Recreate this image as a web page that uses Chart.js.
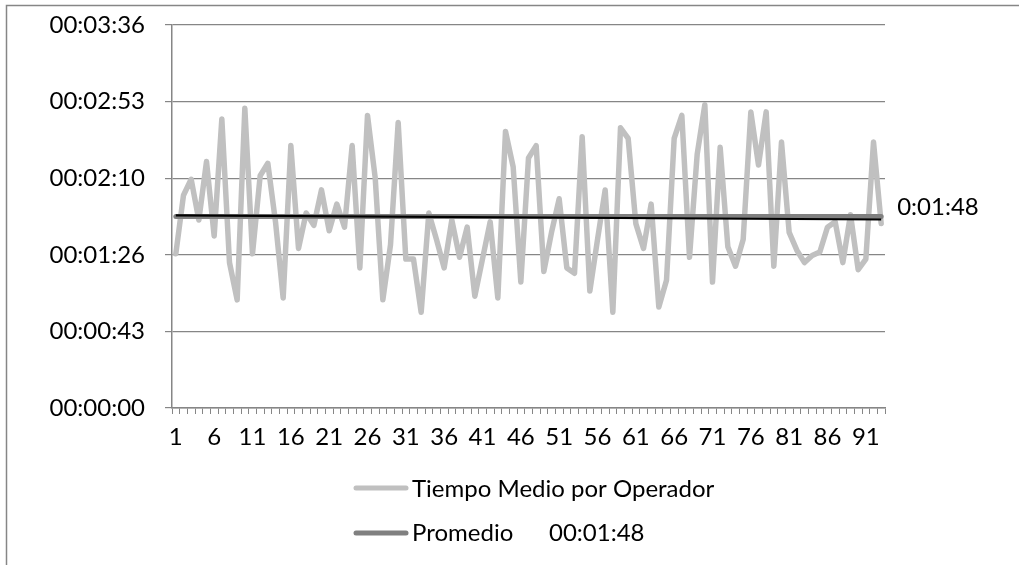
<!DOCTYPE html>
<html>
<head>
<meta charset="utf-8">
<script src="https://cdn.jsdelivr.net/npm/chart.js@4.4.0/dist/chart.umd.min.js"></script>
<style>
  html, body { margin: 0; padding: 0; background: #fff; }
  #wrap { width: 1019px; height: 565px; position: relative; }
</style>
</head>
<body>
<div id="wrap"><canvas id="chart" width="1019" height="565"></canvas></div>
<script>
// Operator index (category axis)
const categories = ['1','2','3','4','5','6','7','8','9','10','11','12','13','14','15','16','17','18','19','20',
  '21','22','23','24','25','26','27','28','29','30','31','32','33','34','35','36','37','38','39','40',
  '41','42','43','44','45','46','47','48','49','50','51','52','53','54','55','56','57','58','59','60',
  '61','62','63','64','65','66','67','68','69','70','71','72','73','74','75','76','77','78','79','80',
  '81','82','83','84','85','86','87','88','89','90','91','92','93'];

// Category labels shown under the axis
const xTickLabels = ['1','6','11','16','21','26','31','36','41','46','51','56','61','66','71','76','81','86','91'];

// Average handling time per operator, in seconds
const tiempoMedio = [87,120,129,106,139,97,163,82,61,169,87,131,138,105,62,148,90,110,103,123,
  100,115,102,148,79,165,130,61,92,161,84,84,54,110,95,79,106,85,102,63,
  84,105,62,156,136,71,141,148,77,99,118,79,76,153,66,95,123,54,158,152,
  104,90,115,57,72,152,165,85,143,171,71,147,91,80,95,167,137,167,80,150,
  99,89,82,86,88,102,105,82,109,78,84,150,104];

// Overall average (00:01:48), one value per operator
const promedio = [108,108,108,108,108,108,108,108,108,108,108,108,108,108,108,108,108,108,108,108,
  108,108,108,108,108,108,108,108,108,108,108,108,108,108,108,108,108,108,108,108,
  108,108,108,108,108,108,108,108,108,108,108,108,108,108,108,108,108,108,108,108,
  108,108,108,108,108,108,108,108,108,108,108,108,108,108,108,108,108,108,108,108,
  108,108,108,108,108,108,108,108,108,108,108,108,108];

// Linear trend of the operator times: value at first and last operator
const trendEnds = [108.6, 106.3];

// Value-axis ticks, in seconds
const yTickValues = [0, 43.2, 86.4, 129.6, 172.8, 216];

const seriesNames = ['Tiempo Medio por Operador', 'Promedio'];
const promedioLegendValue = '00:01:48';

const FONT = 'Lato, "Open Sans", sans-serif';
const FONT_SIZE = 24;
const AXIS_GREY = '#868686';

function pad2(n) { return String(n).padStart(2, '0'); }
function hms(v, padHours) {
  const s = Math.round(v);
  const h = Math.floor(s / 3600), m = Math.floor((s % 3600) / 60), sec = s % 60;
  return (padHours ? pad2(h) : String(h)) + ':' + pad2(m) + ':' + pad2(sec);
}

// Outer frame of the chart object (left and top edges)
const framePlugin = {
  id: 'frame',
  beforeDraw(chart) {
    const ctx = chart.ctx;
    ctx.save();
    ctx.fillStyle = '#fff';
    ctx.fillRect(0, 0, chart.width, chart.height);
    ctx.strokeStyle = AXIS_GREY;
    ctx.lineWidth = 1.5;
    ctx.beginPath();
    ctx.moveTo(6.5, chart.height);
    ctx.lineTo(6.5, 5.5);
    ctx.lineTo(chart.width, 5.5);
    ctx.stroke();
    ctx.restore();
  }
};

// Value label at the end of the average line
const endLabelPlugin = {
  id: 'endLabel',
  afterDatasetsDraw(chart) {
    const meta = chart.getDatasetMeta(1);
    const last = meta.data[meta.data.length - 1];
    if (!last) return;
    const ctx = chart.ctx;
    ctx.save();
    ctx.font = FONT_SIZE + 'px ' + FONT;
    ctx.fillStyle = '#000';
    ctx.textAlign = 'left';
    ctx.textBaseline = 'alphabetic';
    ctx.fillText(hms(promedio[promedio.length - 1], false), last.x + 16, last.y - 1.5);
    ctx.restore();
  }
};

// Two-row legend under the axis
const legendPlugin = {
  id: 'stackedLegend',
  afterDraw(chart) {
    const ctx = chart.ctx;
    const rows = [
      { color: '#c0c0c0', text: seriesNames[0], extra: null, lineY: 488, baseY: 497 },
      { color: '#808080', text: seriesNames[1], extra: promedioLegendValue, lineY: 533, baseY: 541 }
    ];
    ctx.save();
    ctx.font = FONT_SIZE + 'px ' + FONT;
    ctx.fillStyle = '#000';
    ctx.textBaseline = 'alphabetic';
    ctx.textAlign = 'left';
    rows.forEach(r => {
      ctx.strokeStyle = r.color;
      ctx.lineWidth = 5;
      ctx.lineCap = 'round';
      ctx.beginPath();
      ctx.moveTo(356, r.lineY);
      ctx.lineTo(406, r.lineY);
      ctx.stroke();
      ctx.fillText(r.text, 412, r.baseY);
      if (r.extra) ctx.fillText(r.extra, 549, r.baseY);
    });
    ctx.restore();
  }
};

new Chart(document.getElementById('chart'), {
  type: 'line',
  data: {
    labels: categories,
    datasets: [
      {
        label: seriesNames[0],
        data: tiempoMedio,
        borderColor: '#c0c0c0',
        borderWidth: 5.5,
        borderJoinStyle: 'round',
        borderCapStyle: 'round',
        pointRadius: 0,
        tension: 0,
        order: 3
      },
      {
        label: seriesNames[1],
        data: promedio,
        borderColor: '#808080',
        borderWidth: 5,
        borderCapStyle: 'round',
        pointRadius: 0,
        order: 2
      },
      {
        label: 'Lineal',
        data: [{ x: categories[0], y: trendEnds[0] }, { x: categories[categories.length - 1], y: trendEnds[1] }],
        borderColor: '#000',
        borderWidth: 2.2,
        pointRadius: 0,
        order: 1
      }
    ]
  },
  options: {
    responsive: false,
    animation: false,
    devicePixelRatio: 1,
    layout: { autoPadding: false, padding: { left: 0, right: 134, top: 25, bottom: 107 } },
    plugins: {
      legend: { display: false },
      tooltip: { enabled: false }
    },
    scales: {
      x: {
        type: 'category',
        offset: true,
        grid: {
          display: true,
          drawOnChartArea: false,
          drawTicks: true,
          tickLength: 6,
          offset: true,
          color: AXIS_GREY,
          lineWidth: 1
        },
        border: { display: true, color: AXIS_GREY, width: 1.5 },
        ticks: {
          autoSkip: false,
          maxRotation: 0,
          minRotation: 0,
          padding: 9,
          color: '#000',
          font: { family: FONT, size: FONT_SIZE },
          callback(value, index) {
            const l = categories[index];
            return xTickLabels.includes(l) ? l : '';
          }
        },
        afterFit(scale) { scale.height = 50; scale.paddingLeft = 0; scale.paddingRight = 0; }
      },
      y: {
        min: 0,
        max: 216,
        afterBuildTicks(scale) { scale.ticks = yTickValues.map(v => ({ value: v })); },
        grid: { color: AXIS_GREY, lineWidth: 1.2, tickLength: 7, drawTicks: true },
        border: { display: true, color: AXIS_GREY, width: 1.5 },
        ticks: {
          padding: 20,
          color: '#000',
          font: { family: FONT, size: FONT_SIZE },
          callback: v => hms(v, true)
        },
        afterFit(scale) { scale.width = 172; scale.paddingTop = 0; scale.paddingBottom = 0; }
      }
    }
  },
  plugins: [framePlugin, endLabelPlugin, legendPlugin]
});
</script>
</body>
</html>
